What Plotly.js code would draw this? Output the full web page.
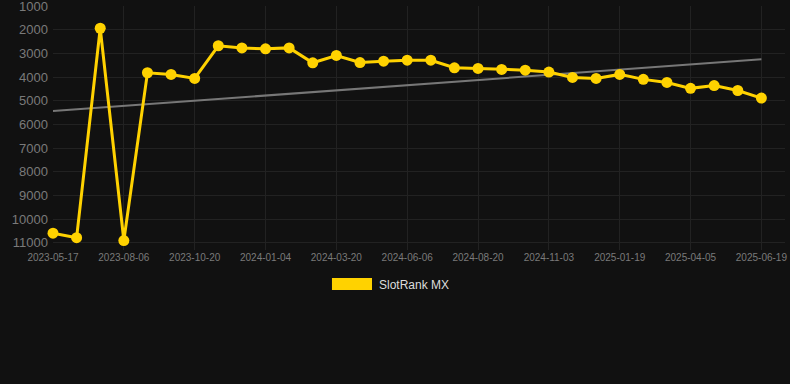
<!DOCTYPE html>
<html>
<head>
<meta charset="utf-8">
<script src="https://cdn.plot.ly/plotly-3.0.1.min.js"></script>
<style>html,body{margin:0;padding:0;background:#111111;}#chart{width:790px;height:384px;}</style>
</head>
<body>
<div id="chart"></div>
<script>
const dates = ["2023-05-17","2023-06-13","2023-07-10","2023-08-06","2023-08-31","2023-09-25","2023-10-20","2023-11-14","2023-12-09","2024-01-04","2024-01-29","2024-02-24","2024-03-20","2024-04-15","2024-05-11","2024-06-06","2024-07-01","2024-07-26","2024-08-20","2024-09-14","2024-10-09","2024-11-03","2024-11-28","2024-12-24","2025-01-19","2025-02-13","2025-03-10","2025-04-05","2025-04-30","2025-05-25","2025-06-19"];
const ranks = [10590,10780,1930,10900,3810,3880,4050,2670,2760,2800,2760,3390,3080,3380,3320,3280,3280,3600,3630,3670,3700,3780,4010,4050,3880,4090,4220,4470,4350,4560,4880];
const trendDates = ["2023-05-17","2025-06-19"];
const trendValues = [5430,3240];
const tickDates = ["2023-05-17","2023-08-06","2023-10-20","2024-01-04","2024-03-20","2024-06-06","2024-08-20","2024-11-03","2025-01-19","2025-04-05","2025-06-19"];
const yTicks = [1000,2000,3000,4000,5000,6000,7000,8000,9000,10000,11000];
const seriesName = "SlotRank MX";

const gold = "#FFD200";
const traces = [
  {x: trendDates, y: trendValues, mode: "lines", line: {color: "#777777", width: 2}, showlegend: false, hoverinfo: "skip"},
  {x: dates, y: ranks, mode: "lines+markers", line: {color: gold, width: 3}, marker: {color: gold, size: 11}, showlegend: false, cliponaxis: false, name: seriesName}
];
const layout = {
  width: 790, height: 384,
  paper_bgcolor: "#111111", plot_bgcolor: "#111111",
  margin: {l: 53, r: 5, t: 6, b: 134},
  font: {family: "Liberation Sans, Arial, sans-serif", color: "#888888"},
  xaxis: {type: "category", categoryarray: dates, categoryorder: "array", range: [0, 31],
    tickvals: tickDates, ticktext: tickDates, tickfont: {size: 10, color: "#7a7a7a"},
    showgrid: true, gridcolor: "#222222", zeroline: false, showline: false, ticks: ""},
  yaxis: {range: [11300, 990], tickvals: yTicks, ticktext: yTicks.map(String), tickfont: {size: 13, color: "#7a7a7a"},
    showgrid: true, gridcolor: "#222222", zeroline: false, showline: false, ticks: "", ticklabelstandoff: 4,
    ticklabeloverflow: "allow"},
  showlegend: false,
  shapes: [
    {type: "rect", xref: "paper", yref: "paper", x0: 0.3811, x1: 0.4358, y0: -0.164, y1: -0.115, fillcolor: gold, line: {width: 0}}
  ],
  annotations: [
    {text: seriesName, xref: "paper", yref: "paper", x: 0.443, y: -0.1414, xanchor: "left", yanchor: "middle", showarrow: false, font: {size: 12, color: "#dddddd"}}
  ]
};
Plotly.newPlot("chart", traces, layout, {displayModeBar: false, staticPlot: true});
</script>
</body>
</html>
